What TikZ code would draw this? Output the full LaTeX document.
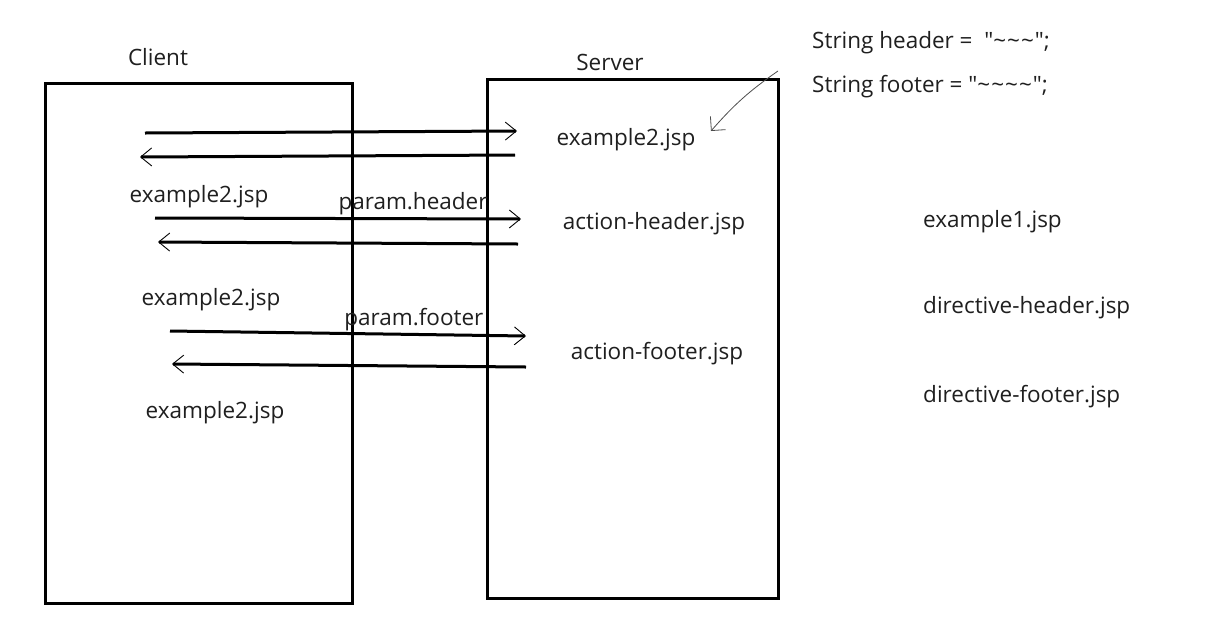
\documentclass[tikz,border=0pt]{standalone}
\usepackage{fontspec}
\setmainfont{Open Sans}[Ligatures=TeXOff]
\usetikzlibrary{arrows.meta}
\tikzset{my_diagram/.style={x=1pt,y=-1pt}}
\tikzset{my_box/.style={draw, line width=3pt}}
\tikzset{my_text/.style={inner sep=0pt, text=black!88, font=\fontsize{22.5}{26}\selectfont}}
\tikzset{my_msg/.style={line width=3pt, -{Straight Barb[length=11pt,width=18pt,line width=0.9pt]}}}
\tikzset{my_note/.style={line width=0.8pt, draw=black!70, -{Straight Barb[length=10pt,width=20pt,line width=0.8pt]}}}
\newcommand{\tld}{\textasciitilde\kern1pt}

\begin{document}
\begin{tikzpicture}[my_diagram]
    \useasboundingbox[fill=white] (0,0) rectangle (1219,625);
    %\draw[help lines, step=50] (0,0) grid (1219,625);

    % the two sides
    \draw[my_box] (45,83) rectangle (352,603);
    \draw[my_box] (487,79) rectangle (778,598);
    \node[my_text] (client) at (158,57) {Client};
    \node[my_text] (server) at (610,62) {Server};

    % page names
    \node[my_text] (srv_ex) at (626,140) {example2.jsp};
    \node[my_text] (srv_hd) at (654,224) {action-header.jsp};
    \node[my_text] (srv_ft) at (657,354) {action-footer.jsp};
    \node[my_text] (cli_ex1) at (199,197) {example2.jsp};
    \node[my_text] (cli_ex2) at (211,300) {example2.jsp};
    \node[my_text] (cli_ex3) at (215,413) {example2.jsp};

    \node[my_text, anchor=west] (note_hd) at (812,43) {String header = \ "\tld\tld\tld";};
    \node[my_text, anchor=west] (note_ft) at (812,87) {String footer = "\tld\tld\tld\tld";};

    \node[my_text, anchor=west] (ex1) at (923,222) {example1.jsp};
    \node[my_text, anchor=west] (dir_hd) at (923,308) {directive-header.jsp};
    \node[my_text, anchor=west] (dir_ft) at (923,397) {directive-footer.jsp};

    % ends of the requests
    \coordinate (r1a) at (145,133);  \coordinate (r1b) at (517,131);
    \coordinate (r2a) at (515,155);  \coordinate (r2b) at (140,157);
    \coordinate (r3a) at (155,218);  \coordinate (r3b) at (521,219);
    \coordinate (r4a) at (518,244);  \coordinate (r4b) at (158,242);
    \coordinate (r5a) at (170,331);  \coordinate (r5b) at (526,336);
    \coordinate (r6a) at (526,367);  \coordinate (r6b) at (172,364);
    \coordinate (n_from) at (778,71); \coordinate (n_to) at (711,131);

    \path
        (r1a) edge [my_msg] (r1b)
        (r2a) edge [my_msg] (r2b)
        (r3a) edge [my_msg] node [my_text, pos=0.705, above=2pt] {param.header} (r3b)
        (r4a) edge [my_msg] (r4b)
        (r5a) edge [my_msg] node [my_text, pos=0.685, above=2pt] {param.footer} (r5b)
        (r6a) edge [my_msg] (r6b)
        (n_from) edge [my_note, bend right=7] (n_to)
    ;
\end{tikzpicture}
\end{document}
